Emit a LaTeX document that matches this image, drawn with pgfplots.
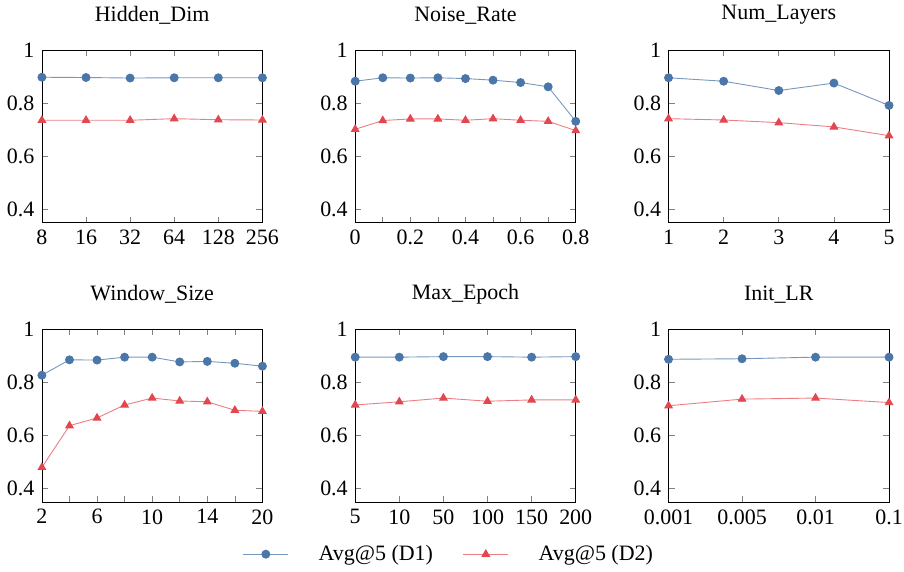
\documentclass[border=0pt]{standalone}
\usepackage{fontspec}
\setmainfont{Liberation Serif}
\usepackage{pgfplots}
\pgfplotsset{compat=1.18}
\usepgfplotslibrary{groupplots}
\definecolor{cblue}{HTML}{4A76A8}
\definecolor{cred}{HTML}{E2474F}
\begin{document}
\fontsize{22}{26}\selectfont
\begin{tikzpicture}
\pgfplotsset{
  every axis/.append style={
    scale only axis, width=221pt, height=173pt,
    ymin=0.35, ymax=1, ytick={0.4,0.6,0.8,1},
    /pgf/number format/assume math mode=true,
    yticklabel style={/pgf/number format/fixed},
    tick style={gray, line width=0.6pt},
    major tick length=6pt,
    axis line style={line width=0.7pt},
    title style={font=\fontsize{22}{26}\selectfont, yshift=12pt},
    tick label style={font=\fontsize{22}{26}\selectfont},
    clip=false,
  },
  s1/.style={color=cblue!75, line width=0.9pt, mark=*, mark size=4pt, mark options={draw=cblue, fill=cblue}},
  s2/.style={color=cred!70, line width=0.9pt, mark=triangle*, mark size=4.3pt, mark options={draw=cred, fill=cred}},
}
\begin{groupplot}[group style={group size=3 by 2, horizontal sep=93pt, vertical sep=107pt}]
\nextgroupplot[title={Hidden\_Dim}, xmin=0, xmax=5, xtick={0,1,2,3,4,5}, xticklabels={8,16,32,64,128,256}]
\addplot[s1] coordinates {(0,0.897) (1,0.896) (2,0.894) (3,0.895) (4,0.895) (5,0.895)};
\addplot[s2] coordinates {(0,0.735) (1,0.735) (2,0.735) (3,0.741) (4,0.737) (5,0.736)};
\nextgroupplot[title={Noise\_Rate}, xmin=0, xmax=0.8, xtick={0,0.1,0.2,0.3,0.4,0.5,0.6,0.7,0.8}, xticklabels={0,,0.2,,0.4,,0.6,,0.8}]
\addplot[s1] coordinates {(0,0.882) (0.1,0.895) (0.2,0.894) (0.3,0.895) (0.4,0.892) (0.5,0.886) (0.6,0.877) (0.7,0.861) (0.8,0.731)};
\addplot[s2] coordinates {(0,0.701) (0.1,0.734) (0.2,0.740) (0.3,0.740) (0.4,0.735) (0.5,0.741) (0.6,0.735) (0.7,0.731) (0.8,0.696)};
\nextgroupplot[title={Num\_Layers}, xmin=1, xmax=5, xtick={1,2,3,4,5}, xticklabels={1,2,3,4,5}]
\addplot[s1] coordinates {(1,0.895) (2,0.882) (3,0.847) (4,0.875) (5,0.791)};
\addplot[s2] coordinates {(1,0.741) (2,0.736) (3,0.726) (4,0.710) (5,0.677)};
\nextgroupplot[title={Window\_Size}, xmin=0, xmax=8, xtick={0,1,2,3,4,5,6,7,8}, xticklabels={2,,6,,10,,14,,20}]
\addplot[s1] coordinates {(0,0.827) (1,0.885) (2,0.884) (3,0.895) (4,0.895) (5,0.877) (6,0.879) (7,0.872) (8,0.861)};
\addplot[s2] coordinates {(0,0.480) (1,0.637) (2,0.666) (3,0.715) (4,0.741) (5,0.730) (6,0.727) (7,0.695) (8,0.691)};
\nextgroupplot[title={Max\_Epoch}, xmin=0, xmax=5, xtick={0,1,2,3,4,5}, xticklabels={5,10,50,100,150,200},
  legend style={at={(0.425,-0.225)}, anchor=north, draw=none, legend columns=2, font=\fontsize{22}{26}\selectfont,
    /tikz/every even column/.append style={column sep=28pt}},
  legend cell align=left,
  legend image code/.code={\draw[mark repeat=2, mark phase=2] plot coordinates {(0pt,0pt) (22.5pt,0pt) (45pt,0pt)};}]
\addplot[s1] coordinates {(0,0.895) (1,0.895) (2,0.897) (3,0.897) (4,0.895) (5,0.897)};
\addlegendentry{\hspace{28pt}Avg@5 (D1)}
\addplot[s2] coordinates {(0,0.715) (1,0.727) (2,0.741) (3,0.729) (4,0.734) (5,0.734)};
\addlegendentry{\hspace{28pt}Avg@5 (D2)}
\nextgroupplot[title={Init\_LR}, xmin=0, xmax=3, xtick={0,1,2,3}, xticklabels={0.001,0.005,0.01,0.1}]
\addplot[s1] coordinates {(0,0.887) (1,0.889) (2,0.895) (3,0.895)};
\addplot[s2] coordinates {(0,0.712) (1,0.737) (2,0.741) (3,0.724)};
\end{groupplot}
\pgfresetboundingbox
\path[use as bounding box] ([xshift=-42pt,yshift=50pt]group c1r1.north west) rectangle ([xshift=15pt,yshift=-70pt]group c3r2.south east);
\end{tikzpicture}
\end{document}
